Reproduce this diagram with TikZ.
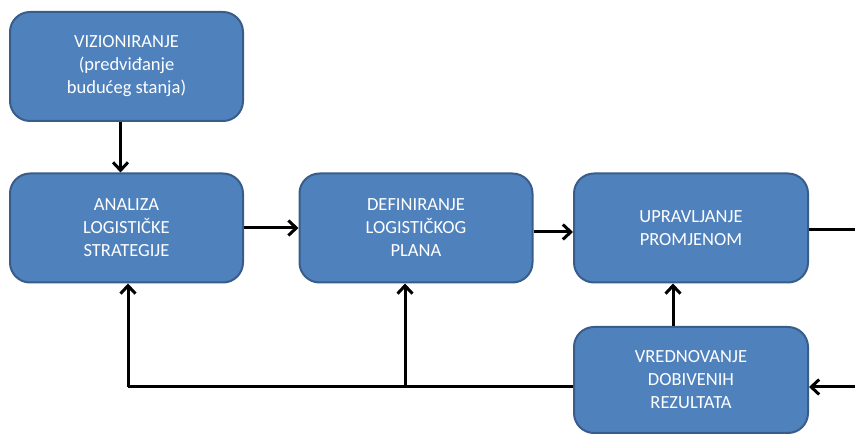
\documentclass[tikz,border=0pt]{standalone}
\usepackage{fontspec}
\setmainfont{Carlito}
\usetikzlibrary{arrows.meta,calc}
\definecolor{boxblue}{RGB}{79,129,189}
\definecolor{boxedge}{RGB}{56,93,138}

\begin{document}
\begin{tikzpicture}[x=1pt,y=-1pt,
  stepbox/.style={draw=boxedge, line width=2pt, fill=boxblue, rounded corners=20pt,
    minimum width=233pt, minimum height=109pt, text=white, align=center,
    font=\fontsize{18.5}{23}\selectfont},
  arr/.style={line width=3pt, -{Straight Barb[length=8pt,width=15pt,line width=3pt]}},
  ln/.style={line width=3pt}]
\useasboundingbox (0,0) rectangle (855,435);
% boxes
\node[stepbox] (viz) at (126.5,66.5) {VIZIONIRANJE\\(predviđanje\\budućeg stanja)};
\node[stepbox] (ana) at (126.5,228) {ANALIZA\\LOGISTIČKE\\STRATEGIJE};
\node[stepbox] (def) at (416,228) {DEFINIRANJE\\LOGISTIČKOG\\PLANA};
\node[stepbox, minimum width=234pt] (upr) at (691,228) {UPRAVLJANJE\\PROMJENOM};
\node[stepbox, minimum width=234pt, minimum height=106pt] (vre) at (691,380) {VREDNOVANJE\\DOBIVENIH\\REZULTATA};
% free ends at the right edge
\coordinate (outR) at (856,230);
\coordinate (inR) at (856,387);
\coordinate (loopL) at (128,387);
\coordinate (loopM) at (405,387);
% forward flow
\draw[arr] ([xshift=-6pt]viz.south) -- ([xshift=-6pt]ana.north);
\draw[arr] (ana.east) -- (def.west);
\draw[arr] ([yshift=-4pt]def.east) -- ([yshift=-4pt]upr.west);
\draw[ln] ([yshift=-2pt]upr.east) -- (outR);
% feedback
\draw[arr] (inR) -- (inR -| vre.east);
\draw[arr] ([xshift=-18pt]vre.north) -- ([xshift=-18pt]upr.south);
\draw[ln, line join=round] (loopL -| vre.west) -- (loopL);
\draw[arr] (loopL) -- (loopL |- ana.south);
\draw[arr] (loopM) -- (loopM |- def.south);
\end{tikzpicture}
\end{document}
